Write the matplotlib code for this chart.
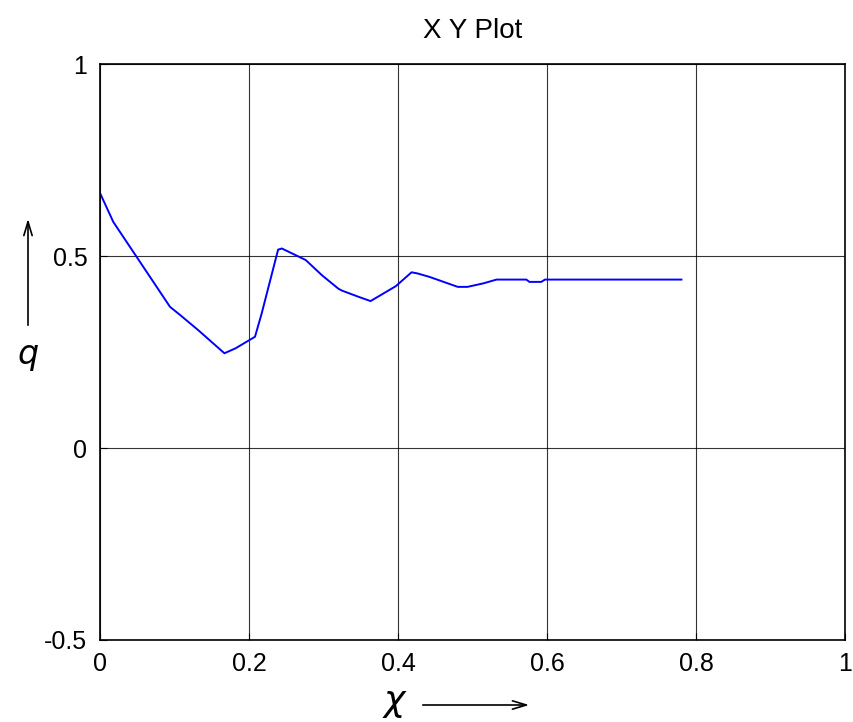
import matplotlib
matplotlib.use("Agg")
import matplotlib.pyplot as plt

plt.rcParams['font.family'] = ['Liberation Sans', 'DejaVu Sans']

x_vals = [0.0, 0.018, 0.094, 0.108, 0.132, 0.167, 0.182, 0.208, 0.217, 0.239, 0.244,
          0.276, 0.298, 0.320, 0.325, 0.347, 0.363, 0.397, 0.418, 0.426, 0.442,
          0.480, 0.493, 0.514, 0.532, 0.572, 0.576, 0.592, 0.597, 0.780]
y_vals = [0.665, 0.589, 0.368, 0.346, 0.307, 0.247, 0.260, 0.290, 0.351, 0.517, 0.520,
          0.490, 0.450, 0.415, 0.410, 0.394, 0.383, 0.422, 0.458, 0.455, 0.446,
          0.420, 0.420, 0.429, 0.439, 0.439, 0.433, 0.433, 0.439, 0.439]
x_ticks = [0, 0.2, 0.4, 0.6, 0.8, 1]
x_ticklabels = ["0", "0.2", "0.4", "0.6", "0.8", "1"]
y_ticks = [-0.5, 0, 0.5, 1]
y_ticklabels = ["-0.5", "0", "0.5", "1"]

fig = plt.figure(figsize=(8.54, 7.22), dpi=100)
ax = fig.add_axes([0.117, 0.1136, 0.873, 0.7974])
ax.plot(x_vals, y_vals, color="#0000ff", lw=1.4)
ax.set_xlim(0, 1)
ax.set_ylim(-0.5, 1)
ax.set_xticks(x_ticks)
ax.set_xticklabels(x_ticklabels)
ax.set_yticks(y_ticks)
ax.set_yticklabels(y_ticklabels)
ax.grid(True, color="black", lw=0.8, alpha=0.8)
ax.tick_params(direction="in", length=5, labelsize=18, pad=9)
for s in ax.spines.values():
    s.set_linewidth(1.2)
ax.set_title("X Y Plot", fontsize=20, pad=19)

# axis labels with arrows
fig.text(395 / 854, 1 - 703 / 722, r"$\chi$", fontsize=26, ha="center", va="center")
fig.text(28 / 854, 1 - 358 / 722, r"$q$", fontsize=24, ha="center", va="center")
fig.patches.append(matplotlib.patches.FancyArrowPatch(
    (420 / 854, 1 - 705 / 722), (532 / 854, 1 - 705 / 722),
    transform=fig.transFigure, arrowstyle="->,head_length=10,head_width=3",
    color="black", lw=1.2))
fig.patches.append(matplotlib.patches.FancyArrowPatch(
    (28 / 854, 1 - 328 / 722), (28 / 854, 1 - 216 / 722),
    transform=fig.transFigure, arrowstyle="->,head_length=10,head_width=3",
    color="black", lw=1.2))

fig.savefig("out.png", dpi=100)
